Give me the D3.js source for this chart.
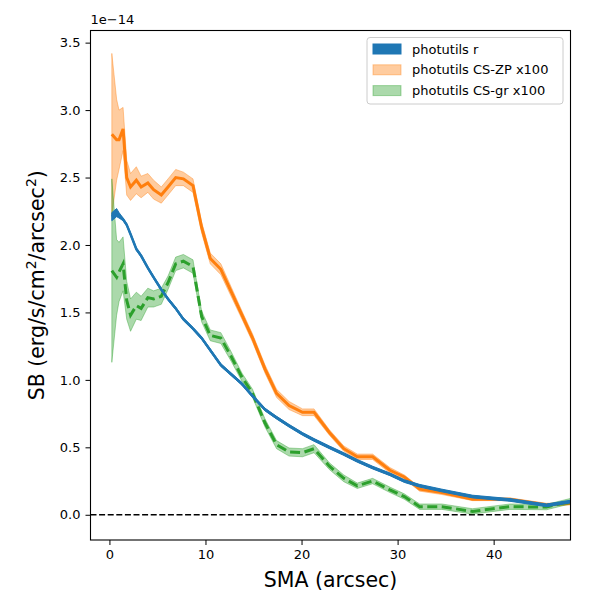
<!DOCTYPE html>
<html>
<head>
<meta charset="utf-8">
<script src="https://cdn.jsdelivr.net/npm/d3@7"></script>
<style>
  body { margin: 0; background: #fff; }
  text { font-family: "DejaVu Sans", sans-serif; fill: #000; }
</style>
</head>
<body>
<svg></svg>
<script>
// semi-major axis (arcsec)
const sma = [0.25, 0.75, 1.0, 1.42, 1.8, 2.2, 2.8, 3.3, 4.0, 4.6, 5.4, 6.1, 6.9, 7.7, 8.7, 9.6, 10.5, 11.6, 12.7, 13.8,
    14.9, 16.2, 17.4, 18.7, 20.1, 21.3, 22.9, 24.4, 25.8, 27.4, 29.2, 30.7, 32.3, 34.6, 37.8, 41.7, 45.5, 48.2];

// surface brightness, units of 1e-14
const sbR = [2.21, 2.24, 2.22, 2.19, 2.15, 2.08, 1.97, 1.92, 1.83, 1.76, 1.67, 1.60, 1.53, 1.45, 1.38, 1.31, 1.22, 1.11, 1.04, 0.97,
    0.88, 0.78, 0.72, 0.66, 0.60, 0.555, 0.50, 0.45, 0.40, 0.35, 0.30, 0.25, 0.215, 0.18, 0.135, 0.11, 0.07, 0.10];
const errR = [0.03, 0.03, 0.02, 0.01, 0.01, 0.01, 0.01, 0.01, 0.01, 0.01, 0.01, 0.01, 0.01, 0.01, 0.01, 0.01, 0.01, 0.01, 0.01, 0.01,
    0.01, 0.01, 0.01, 0.01, 0.01, 0.01, 0.01, 0.01, 0.01, 0.01, 0.01, 0.01, 0.01, 0.01, 0.01, 0.01, 0.01, 0.01];

const sbZP = [2.82, 2.78, 2.78, 2.86, 2.50, 2.43, 2.48, 2.43, 2.46, 2.41, 2.37, 2.43, 2.50, 2.49, 2.44, 2.13, 1.90, 1.82, 1.65, 1.48,
    1.31, 1.08, 0.90, 0.81, 0.76, 0.76, 0.61, 0.49, 0.43, 0.43, 0.33, 0.28, 0.19, 0.165, 0.115, 0.115, 0.075, 0.085];
const errZP = [0.60, 0.30, 0.22, 0.16, 0.13, 0.10, 0.10, 0.08, 0.07, 0.07, 0.06, 0.06, 0.06, 0.05, 0.05, 0.04, 0.04, 0.04, 0.035, 0.03,
    0.03, 0.03, 0.03, 0.03, 0.025, 0.025, 0.02, 0.02, 0.02, 0.02, 0.02, 0.015, 0.015, 0.015, 0.01, 0.01, 0.01, 0.01];

const sbGR = [1.81, 1.76, 1.80, 1.86, 1.59, 1.48, 1.55, 1.53, 1.61, 1.60, 1.62, 1.72, 1.86, 1.88, 1.84, 1.47, 1.33, 1.31, 1.17, 1.02,
    0.90, 0.68, 0.52, 0.465, 0.46, 0.49, 0.36, 0.27, 0.215, 0.25, 0.185, 0.135, 0.06, 0.06, 0.025, 0.06, 0.057, 0.105];
const errGR = [0.68, 0.28, 0.22, 0.20, 0.14, 0.12, 0.10, 0.09, 0.07, 0.06, 0.06, 0.05, 0.05, 0.05, 0.05, 0.04, 0.04, 0.04, 0.035, 0.03,
    0.03, 0.03, 0.03, 0.03, 0.03, 0.03, 0.025, 0.025, 0.02, 0.02, 0.02, 0.02, 0.02, 0.02, 0.02, 0.02, 0.02, 0.02];

const xTicks = [0, 10, 20, 30, 40];
const yTicks = [0, 0.5, 1.0, 1.5, 2.0, 2.5, 3.0, 3.5];
const legendLabels = ["photutils r", "photutils CS-ZP x100", "photutils CS-gr x100"];

window.onload = function() {
    const svg = d3.select("svg").attr("width", 600).attr("height", 600);

    const left = 90.5, right = 570.5, top = 30.5, bottom = 540;

    const x = d3.scaleLinear().domain([-1.97, 48.0]).range([left, right]);
    const y = d3.scaleLinear().domain([-0.187, 3.59]).range([bottom, top]);

    const rows = sma.map(function(s, i) {
        return { s: s, r: sbR[i], er: errR[i], zp: sbZP[i], ezp: errZP[i], gr: sbGR[i], egr: errGR[i] };
    });

    const clip = svg.append("clipPath").attr("id", "clip")
        .append("rect").attr("x", left).attr("y", top).attr("width", right - left).attr("height", bottom - top);

    const plot = svg.append("g").attr("clip-path", "url(#clip)");

    function band(val, err) {
        return d3.area()
            .x(d => x(d.s))
            .y0(d => y(d[val] - d[err]))
            .y1(d => y(d[val] + d[err]));
    }
    function line(val) {
        return d3.line().x(d => x(d.s)).y(d => y(d[val]));
    }

    // zero line
    plot.append("line")
        .attr("x1", left).attr("x2", right)
        .attr("y1", y(0)).attr("y2", y(0))
        .attr("stroke", "#000").attr("stroke-width", 1.6)
        .attr("stroke-dasharray", "6,2.6");

    // CS-ZP
    plot.append("path").datum(rows).attr("d", band("zp", "ezp"))
        .attr("fill", "#ff7f0e").attr("fill-opacity", 0.4)
        .attr("stroke", "#ff7f0e").attr("stroke-opacity", 0.4).attr("stroke-width", 1);
    plot.append("path").datum(rows).attr("d", line("zp"))
        .attr("fill", "none").attr("stroke", "#ff7f0e").attr("stroke-width", 3);

    // CS-gr
    plot.append("path").datum(rows).attr("d", band("gr", "egr"))
        .attr("fill", "#2ca02c").attr("fill-opacity", 0.4)
        .attr("stroke", "#2ca02c").attr("stroke-opacity", 0.4).attr("stroke-width", 1);
    plot.append("path").datum(rows).attr("d", line("gr"))
        .attr("fill", "none").attr("stroke", "#2ca02c").attr("stroke-width", 3)
        .attr("stroke-dasharray", "10,4.5");

    // r band
    plot.append("path").datum(rows).attr("d", band("r", "er"))
        .attr("fill", "#1f77b4").attr("stroke", "#1f77b4").attr("stroke-width", 1);
    plot.append("path").datum(rows).attr("d", line("r"))
        .attr("fill", "none").attr("stroke", "#1f77b4").attr("stroke-width", 2.5);

    // axes
    const xAxis = svg.append("g").attr("transform", "translate(0," + bottom + ")")
        .call(d3.axisBottom(x).tickValues(xTicks).tickFormat(d3.format("d")).tickSize(5).tickPadding(5));
    const yAxis = svg.append("g").attr("transform", "translate(" + left + ",0)")
        .call(d3.axisLeft(y).tickValues(yTicks).tickFormat(d3.format(".1f")).tickSize(5).tickPadding(5));
    [xAxis, yAxis].forEach(function(a) {
        a.select(".domain").remove();
        a.selectAll("line").attr("stroke", "#000").attr("stroke-width", 1);
        a.selectAll("text").style("font-family", "DejaVu Sans").style("font-size", "13px").attr("fill", "#000");
    });

    svg.append("rect")
        .attr("x", left).attr("y", top).attr("width", right - left).attr("height", bottom - top)
        .attr("fill", "none").attr("stroke", "#000").attr("stroke-width", 1.1);

    // offset text
    svg.append("text").attr("x", left).attr("y", 24)
        .style("font-size", "13px").text("1e\u221214");

    // axis labels
    svg.append("text").attr("x", (left + right) / 2).attr("y", 587)
        .attr("text-anchor", "middle").style("font-size", "20.5px").text("SMA (arcsec)");

    const yl = svg.append("text")
        .attr("transform", "translate(44," + ((top + bottom) / 2) + ") rotate(-90)")
        .attr("text-anchor", "middle").style("font-size", "20.5px");
    yl.append("tspan").text("SB (erg/s/cm");
    yl.append("tspan").attr("dy", -8).style("font-size", "14px").text("2");
    yl.append("tspan").attr("dy", 8).text("/arcsec");
    yl.append("tspan").attr("dy", -8).style("font-size", "14px").text("2");
    yl.append("tspan").attr("dy", 8).text(")");

    // legend
    const lg = svg.append("g");
    lg.append("rect").attr("x", 367).attr("y", 37.5).attr("width", 196).attr("height", 66.5).attr("rx", 3)
        .attr("fill", "#fff").attr("fill-opacity", 0.8).attr("stroke", "#ccc").attr("stroke-width", 1);
    const legendFill = [
        { fill: "#1f77b4", op: 1 },
        { fill: "#ff7f0e", op: 0.4 },
        { fill: "#2ca02c", op: 0.4 }
    ];
    lg.selectAll("g.item").data(legendLabels).join("g").attr("class", "item")
        .attr("transform", (d, i) => "translate(0," + (49 + i * 20.8) + ")")
        .each(function(d, i) {
            const g = d3.select(this);
            g.append("rect").attr("x", 373).attr("y", -5).attr("width", 28).attr("height", 10)
                .attr("fill", legendFill[i].fill).attr("fill-opacity", legendFill[i].op)
                .attr("stroke", legendFill[i].fill).attr("stroke-opacity", legendFill[i].op);
            g.append("text").attr("x", 412).attr("y", 4.5).style("font-size", "13px").text(d);
        });
};
</script>
</body>
</html>
